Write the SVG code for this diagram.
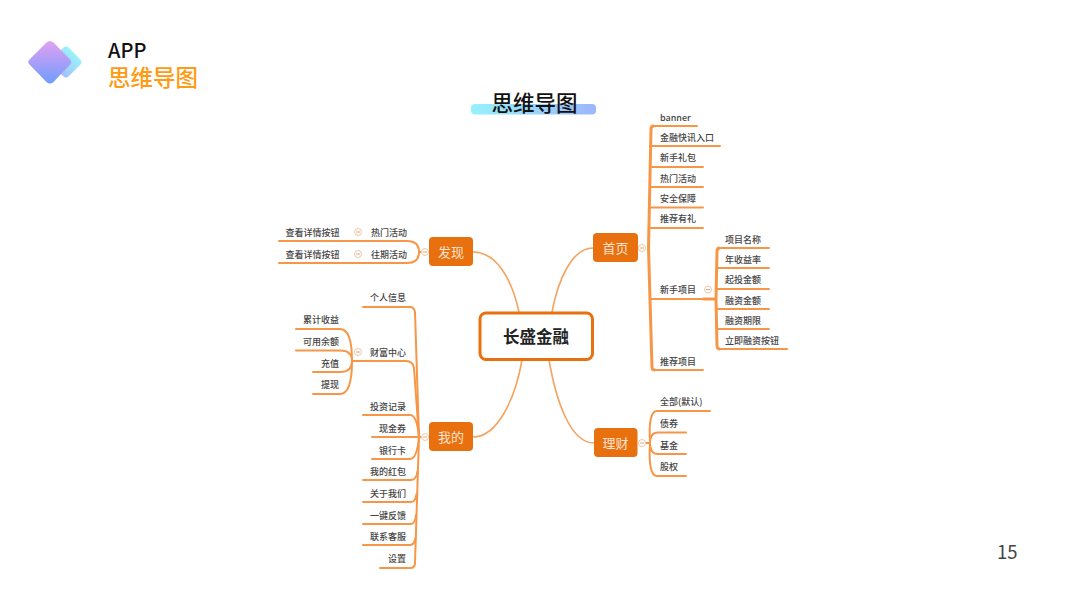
<svg xmlns="http://www.w3.org/2000/svg" width="1067" height="600" viewBox="0 0 1067 600">
<style>
text{font-family:"Noto Sans CJK SC","Noto Sans",sans-serif}
.t{font-size:9px;fill:#444;font-weight:500}
.m{text-anchor:middle}
.b{fill:#e8700f}
.bt{font-size:13px;fill:#fbe3cf;text-anchor:middle}
.l{fill:none;stroke:#f79646;stroke-width:2;stroke-linecap:round}
.th{fill:none;stroke:#f79646;stroke-width:3}
.cv{fill:none;stroke:#f5a35e;stroke-width:1.600}
.c{fill:#fff;stroke:#eec6a6;stroke-width:1}
.d{stroke:#e3a87a;stroke-width:1}
</style>
<defs>
<linearGradient id="g1" x1="0" y1="0" x2="0" y2="1"><stop offset="0" stop-color="#e2a0f2"/><stop offset="1" stop-color="#6f9dfd"/></linearGradient>
<linearGradient id="g2" x1="0" y1="0" x2="0" y2="1"><stop offset="0" stop-color="#9bf3fa"/><stop offset="1" stop-color="#a4c0fb"/></linearGradient>
<linearGradient id="g3" x1="0" y1="0" x2="1" y2="0"><stop offset="0" stop-color="#96f2fb"/><stop offset="1" stop-color="#9db6fb"/></linearGradient>
</defs>

<g id="header">
<rect x="54" y="50" width="24" height="24" rx="4" fill="url(#g2)" transform="rotate(45 66 62)"/>
<path d="M46.500 42.500Q50 39.500 53.500 42.500L70 59.500Q72.500 62 70 64.500L53.500 82Q50 85 46.500 82L29.500 64.500Q27 62 29.500 59.500Z" fill="url(#g1)"/>
<text x="108" y="58" font-size="20" font-weight="500" fill="#111">APP</text>
<text x="108" y="86" font-size="22.500" font-weight="500" fill="#ff9a12">思维导图</text>
</g>
<g id="title">
<rect x="471" y="104" width="125" height="10.500" rx="4" fill="url(#g3)"/>
<text x="534.500" y="111" font-size="21.500" font-weight="500" fill="#111" text-anchor="middle">思维导图</text>
</g>
<text id="page" x="997" y="559" font-size="18.500" fill="#444">15</text>

<g id="connectors">
<path class="cv" d="M519 312C512 280 497 252 473 252"/>
<path class="cv" d="M552 312C558 280 572 248 593 248"/>
<path class="cv" d="M522 360C515 400 497 437 473 437"/>
<path class="cv" d="M549 360C556 400 570 443 594 443"/>

<path class="th" d="M648.500 248L651 129Q651 126 654 126M648.500 248L652 367Q652 370 655 370"/>
<path class="l" d="M654 126H697M650 146H720M650 167H703M650 187H703M650 207.500H703M650 228H703M650 299H703M654 370H703"/>
<path class="th" d="M703 299H716"/>
<path class="th" d="M716 299L717 251Q717 248 720 248M716 299L717 346Q717 349 720 349"/>
<path class="l" d="M719 248H769M717 268H769M717 289H769M717 309H769M717 329H769M719 349H787"/>

<path class="l" d="M650 443Q648 411 657 411H710M650 443Q650 432.500 658 432.500H686M650 443Q650 454 658 454H686M650 443Q648 476 657 476H686M645 443H650"/>

<path class="l" d="M279 241H407Q419 241 419 252Q419 263 407 263H279M419 252H425"/>

<path class="l" d="M363 307H410Q414 307 415 312L419 437L415 563Q415 568 410 568H380"/>
<path class="l" d="M363 361H406Q413 361 414 368L419 437"/>
<path class="l" d="M363 415H410Q417 415 419 437Q417 459 410 459H372M372 437H425"/>
<path class="l" d="M363 480H411Q416.500 480 417.500 471M363 502H411Q415.500 502 416.500 494M363 524H411Q415 524 416 515M363 545H410Q414.500 545 415.500 538"/>

<path class="l" d="M296 329H340Q352 329 352 361Q352 394 340 394H313M296 350.500H340Q352 350.500 352 361Q352 372 340 372H313M352 361H363"/>
</g>

<g id="center"><rect x="480" y="313" width="112.500" height="46.500" rx="6" fill="#fff" stroke="#e8700f" stroke-width="3"/><text x="536" y="343" font-size="16.500" font-weight="700" fill="#222" text-anchor="middle">长盛金融</text></g>
<g id="shouye"><rect class="b" x="593" y="233" width="45" height="29" rx="4"/><text class="bt" x="615.500" y="252.500">首页</text><circle class="c" cx="642" cy="248" r="3.500"/><path class="d" d="M640 248H644"/></g>
<g id="faxian"><rect class="b" x="429" y="237" width="44" height="29" rx="4"/><text class="bt" x="451" y="256.500">发现</text><circle class="c" cx="425" cy="252" r="3.500"/><path class="d" d="M423 252H427"/></g>
<g id="wode"><rect class="b" x="429" y="422" width="44" height="29" rx="4"/><text class="bt" x="451" y="441.500">我的</text><circle class="c" cx="425" cy="437" r="3.500"/><path class="d" d="M423 437H427"/></g>
<g id="licai"><rect class="b" x="594" y="428" width="43.500" height="29" rx="4"/><text class="bt" x="615.500" y="447.500">理财</text><circle class="c" cx="642" cy="443" r="3.500"/><path class="d" d="M640 443H644"/></g>

<g id="shouye-items">
<text class="t" x="660" y="121">banner</text>
<text class="t" x="660" y="141">金融快讯入口</text>
<text class="t" x="660" y="161">新手礼包</text>
<text class="t" x="660" y="181.500">热门活动</text>
<text class="t" x="660" y="202">安全保障</text>
<text class="t" x="660" y="222">推荐有礼</text>
<text class="t" x="660" y="293">新手项目</text>
<text class="t" x="660" y="364.500">推荐项目</text>
<circle class="c" cx="708" cy="289.500" r="3.500"/><path class="d" d="M706 289.500H710"/>
<text class="t" x="725" y="242.500">项目名称</text>
<text class="t" x="725" y="263">年收益率</text>
<text class="t" x="725" y="283">起投金额</text>
<text class="t" x="725" y="304">融资金额</text>
<text class="t" x="725" y="324">融资期限</text>
<text class="t" x="725" y="344">立即融资按钮</text>
</g>
<g id="licai-items">
<text class="t" x="660" y="405">全部(默认)</text>
<text class="t" x="660" y="427">债券</text>
<text class="t" x="660" y="448.500">基金</text>
<text class="t" x="660" y="470">股权</text>
</g>
<g id="faxian-items">
<text class="t m" x="312.500" y="236">查看详情按钮</text>
<text class="t m" x="312.500" y="258">查看详情按钮</text>
<circle class="c" cx="358" cy="232" r="3.500"/><path class="d" d="M356 232H360"/>
<circle class="c" cx="358" cy="254" r="3.500"/><path class="d" d="M356 254H360"/>
<text class="t m" x="389" y="236">热门活动</text>
<text class="t m" x="389" y="258">往期活动</text>
</g>
<g id="wode-items">
<text class="t" x="370" y="301">个人信息</text>
<text class="t" x="370" y="355.500">财富中心</text>
<circle class="c" cx="358" cy="352" r="3.500"/><path class="d" d="M356 352H360"/>
<text class="t" x="303" y="323">累计收益</text>
<text class="t" x="303" y="345">可用余额</text>
<text class="t" x="321" y="366.500">充值</text>
<text class="t" x="321" y="388">提现</text>
<text class="t" x="370" y="410">投资记录</text>
<text class="t" x="379" y="432">现金券</text>
<text class="t" x="379" y="454">银行卡</text>
<text class="t" x="370" y="475">我的红包</text>
<text class="t" x="370" y="497">关于我们</text>
<text class="t" x="370" y="518.500">一键反馈</text>
<text class="t" x="370" y="540">联系客服</text>
<text class="t" x="388" y="562">设置</text>
</g>
</svg>
